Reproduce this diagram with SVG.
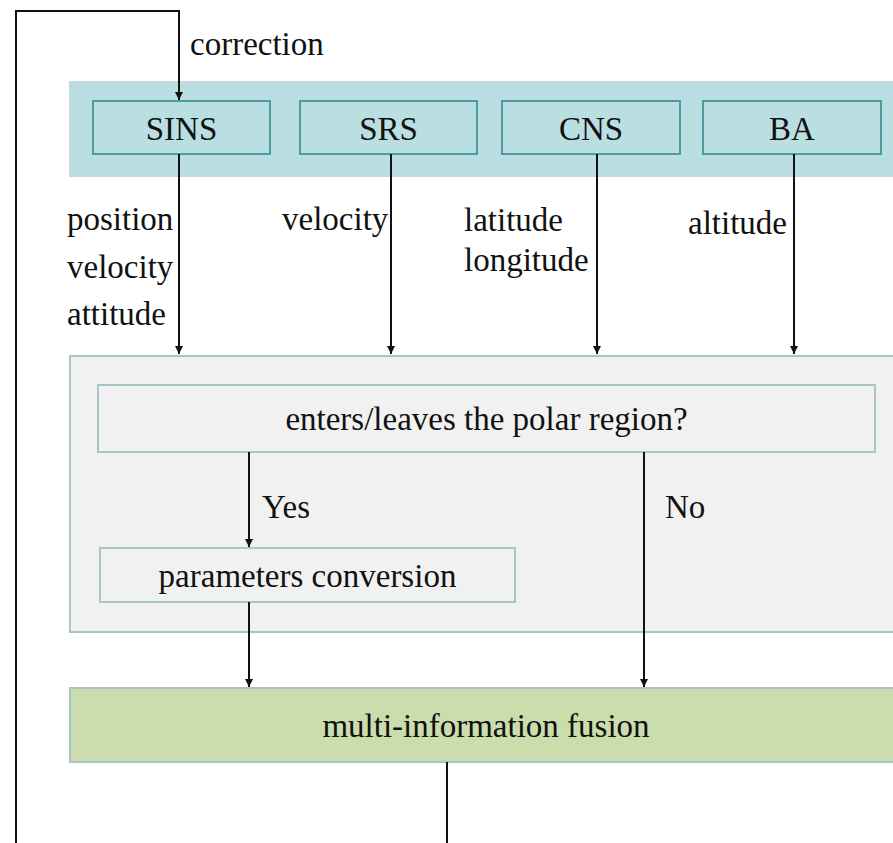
<svg xmlns="http://www.w3.org/2000/svg" width="893" height="843" viewBox="0 0 893 843" font-family="'Liberation Serif', 'Times New Roman', serif">
<defs>
<style>
text{font-family:'Liberation Serif','Times New Roman',serif;font-size:33px;fill:#111}
.c{text-anchor:middle}
.band{fill:#badfe2;stroke:#c9d6d8;stroke-width:2}
.sens{fill:#badfe2;stroke:#4e9ba2;stroke-width:2}
.grey{fill:#f1f1f1;stroke:#a9c5c8;stroke-width:2}
.fuse{fill:#cbddac;stroke:#a9c5c8;stroke-width:2}
.ln{fill:none;stroke:#111;stroke-width:2}
</style>
<marker id="ah" viewBox="0 0 10 10" refX="10" refY="5" markerWidth="8" markerHeight="10" markerUnits="userSpaceOnUse" orient="auto">
<path d="M0,0 L10,5 L0,10 z" fill="#111"/>
</marker>
</defs>
<rect width="893" height="843" fill="#fff"/>
<g id="sensor-band"><rect class="band" x="70" y="82" width="830" height="94"/></g>
<g id="SINS"><rect class="sens" x="93" y="101" width="177" height="53"/><text class="c" x="181.5" y="140">SINS</text></g>
<g id="SRS"><rect class="sens" x="300" y="101" width="177" height="53"/><text class="c" x="388.5" y="140">SRS</text></g>
<g id="CNS"><rect class="sens" x="502" y="101" width="178" height="53"/><text class="c" x="591" y="140">CNS</text></g>
<g id="BA"><rect class="sens" x="703" y="101" width="178" height="53"/><text class="c" x="792" y="140">BA</text></g>
<g id="polar-block"><rect class="grey" x="70" y="356" width="830" height="276"/></g>
<g id="decision"><rect class="grey" x="98" y="385" width="777" height="67"/><text class="c" x="486.5" y="430">enters/leaves the polar region?</text></g>
<g id="conversion"><rect class="grey" x="100" y="548" width="415" height="54"/><text class="c" x="307.5" y="587">parameters conversion</text></g>
<g id="fusion"><rect class="fuse" x="70" y="688" width="830" height="74"/><text class="c" x="486" y="737">multi-information fusion</text></g>
<g id="connectors">
<path class="ln" d="M447,762 V843"/>
<path class="ln" d="M16,843 V11 H179 V100" marker-end="url(#ah)"/>
<path class="ln" d="M179,154 V354" marker-end="url(#ah)"/>
<path class="ln" d="M391,154 V354" marker-end="url(#ah)"/>
<path class="ln" d="M597,154 V354" marker-end="url(#ah)"/>
<path class="ln" d="M794,154 V354" marker-end="url(#ah)"/>
<path class="ln" d="M249,452 V547" marker-end="url(#ah)"/>
<path class="ln" d="M644,452 V687" marker-end="url(#ah)"/>
<path class="ln" d="M249,602 V687" marker-end="url(#ah)"/>
</g>
<g id="labels">
<text x="190" y="55">correction</text>
<text x="67" y="230">position</text>
<text x="67" y="278">velocity</text>
<text x="67" y="325">attitude</text>
<text x="282" y="230">velocity</text>
<text x="464" y="231">latitude</text>
<text x="464" y="271">longitude</text>
<text x="688" y="234">altitude</text>
<text x="262" y="518">Yes</text>
<text x="665" y="518">No</text>
</g>
</svg>
